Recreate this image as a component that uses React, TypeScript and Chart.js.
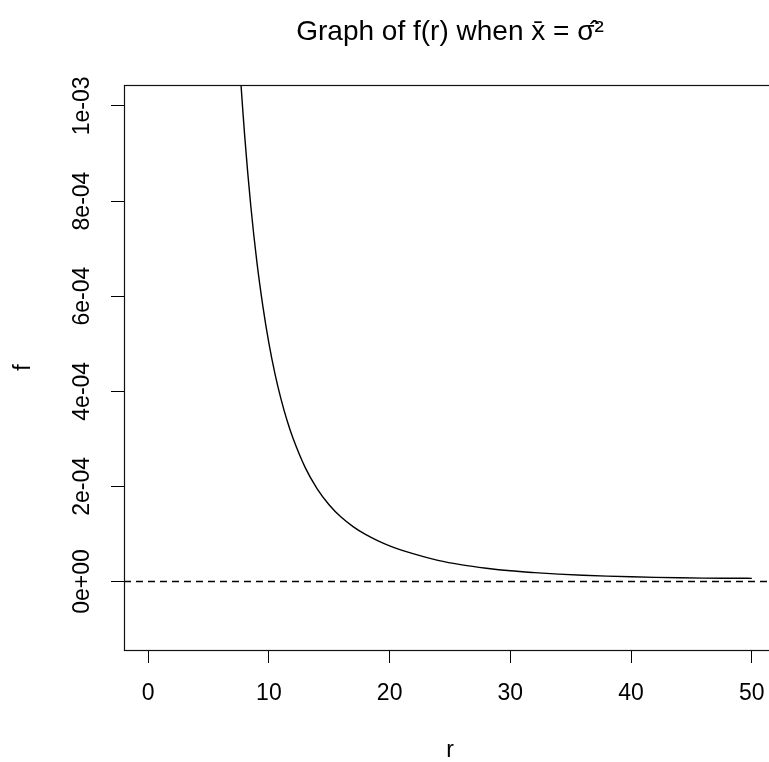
import { useEffect, useRef } from "react";
import { Chart, registerables } from "chart.js";

Chart.register(...registerables);

// r values and the read-off f(r) values of the curve
const rValues = [
  7, 7.5, 8, 8.5, 9, 9.5, 10, 10.5, 11, 11.5, 12, 13, 14, 15, 16, 17, 18, 19, 20,
  22, 24, 26, 28, 30, 32, 34, 36, 38, 40, 42, 44, 46, 48, 50,
];
const fValues = [
  1.36e-3, 1.12e-3, 9.36e-4, 7.9e-4, 6.73e-4, 5.79e-4, 5.01e-4, 4.37e-4, 3.84e-4, 3.39e-4,
  3.01e-4, 2.4e-4, 1.95e-4, 1.61e-4, 1.35e-4, 1.15e-4, 9.9e-5, 8.6e-5, 7.5e-5,
  5.8e-5, 4.45e-5, 3.5e-5, 2.8e-5, 2.25e-5, 1.87e-5, 1.56e-5, 1.32e-5, 1.13e-5, 9.9e-6,
  8.8e-6, 7.9e-6, 7.2e-6, 6.9e-6, 6.7e-6,
];
// horizontal reference line (h = 0)
const refLineX = [-2, 52];
const refLineY = [0, 0];

const xTicks = [0, 10, 20, 30, 40, 50];
const xTickLabels = ["0", "10", "20", "30", "40", "50"];
const yTicks = [0, 2e-4, 4e-4, 6e-4, 8e-4, 1e-3];
const yTickLabels = ["0e+00", "2e-04", "4e-04", "6e-04", "8e-04", "1e-03"];
const xRange = [-2, 52];
const yRange = [-1.44e-4, 1.044e-3];

const titleText = "Graph of f(r) when x\u0304 = \u03C3\u0302\u00B2";
const xTitle = "r";
const yTitle = "f";

const FONT = "'Liberation Sans', Arial, Helvetica, sans-serif";

const boxPlugin = {
  id: "boxPlugin",
  afterDraw(chart: any) {
    const { ctx, chartArea } = chart;
    ctx.save();
    ctx.strokeStyle = "#111";
    ctx.lineWidth = 1.2;
    const l = Math.round(chartArea.left) + 0.5;
    const t = Math.round(chartArea.top) + 0.5;
    const r = Math.round(chartArea.right) + 0.5;
    const b = Math.round(chartArea.bottom) + 0.5;
    ctx.strokeRect(l, t, r - l, b - t);
    ctx.restore();
  },
};

export default function App() {
  const ref = useRef<HTMLCanvasElement | null>(null);

  useEffect(() => {
    if (!ref.current) return;
    const curve = rValues.map((r, i) => ({ x: r, y: fValues[i] }));
    const zeroLine = refLineX.map((x, i) => ({ x, y: refLineY[i] }));
    const chart = new Chart(ref.current, {
      type: "line",
      data: {
        datasets: [
          {
            data: curve,
            borderColor: "#000",
            borderWidth: 1.4,
            pointRadius: 0,
            cubicInterpolationMode: "monotone",
            clip: 0,
          },
          {
            data: zeroLine,
            borderColor: "#000",
            borderWidth: 1.3,
            borderDash: [7, 5],
            pointRadius: 0,
            clip: 0,
          },
        ],
      },
      options: {
        animation: false,
        responsive: false,
        devicePixelRatio: 1,
        layout: { padding: 0 },
        plugins: {
          legend: { display: false },
          tooltip: { enabled: false },
          title: {
            display: true,
            text: titleText,
            color: "#000",
            font: { family: FONT, size: 28, weight: "normal", lineHeight: 1.2 },
            padding: { top: 15.5, bottom: 35.9 },
          },
        },
        scales: {
          x: {
            type: "linear",
            min: xRange[0],
            max: xRange[1],
            afterBuildTicks: (s: any) => {
              s.ticks = xTicks.map((v) => ({ value: v }));
            },
            afterFit: (s: any) => {
              s.height = 112;
            },
            grid: {
              drawOnChartArea: false,
              drawTicks: true,
              tickLength: 13,
              tickColor: "#000",
              tickWidth: 1,
            },
            border: { display: false },
            ticks: {
              color: "#000",
              font: { family: FONT, size: 23 },
              padding: 17,
              maxRotation: 0,
              minRotation: 0,
              autoSkip: false,
              callback: (_v: any, i: number) => xTickLabels[i],
            },
            title: {
              display: true,
              text: xTitle,
              color: "#000",
              font: { family: FONT, size: 23, lineHeight: 1 },
              padding: { top: 0, bottom: 0 },
            },
          },
          y: {
            type: "linear",
            min: yRange[0],
            max: yRange[1],
            afterBuildTicks: (s: any) => {
              s.ticks = yTicks.map((v) => ({ value: v }));
            },
            afterFit: (s: any) => {
              s.width = 124;
            },
            grid: {
              drawOnChartArea: false,
              drawTicks: true,
              tickLength: 13,
              tickColor: "#000",
              tickWidth: 1,
            },
            border: { display: false },
            ticks: {
              color: "#000",
              font: { family: FONT, size: 23 },
              padding: -4.3,
              minRotation: 90,
              maxRotation: 90,
              crossAlign: "center",
              autoSkip: false,
              callback: (_v: any, i: number) => yTickLabels[i],
            },
            title: {
              display: true,
              text: yTitle,
              color: "#000",
              font: { family: FONT, size: 23, lineHeight: 1.2 },
              padding: { top: 10.2, bottom: 0 },
            },
          },
          yRight: {
            type: "linear",
            position: "right",
            min: yRange[0],
            max: yRange[1],
            afterFit: (s: any) => {
              s.width = 124;
            },
            grid: { display: false },
            border: { display: false },
            ticks: { display: false },
          },
        },
      },
      plugins: [boxPlugin],
    } as any);
    return () => chart.destroy();
  }, []);

  return (
    <div
      style={{
        position: "absolute",
        left: 0,
        top: 0,
        width: 769,
        height: 762,
        overflow: "hidden",
        background: "#fff",
      }}
    >
      <canvas ref={ref} width={900} height={762} style={{ display: "block", width: 900, height: 762 }} />
    </div>
  );
}
